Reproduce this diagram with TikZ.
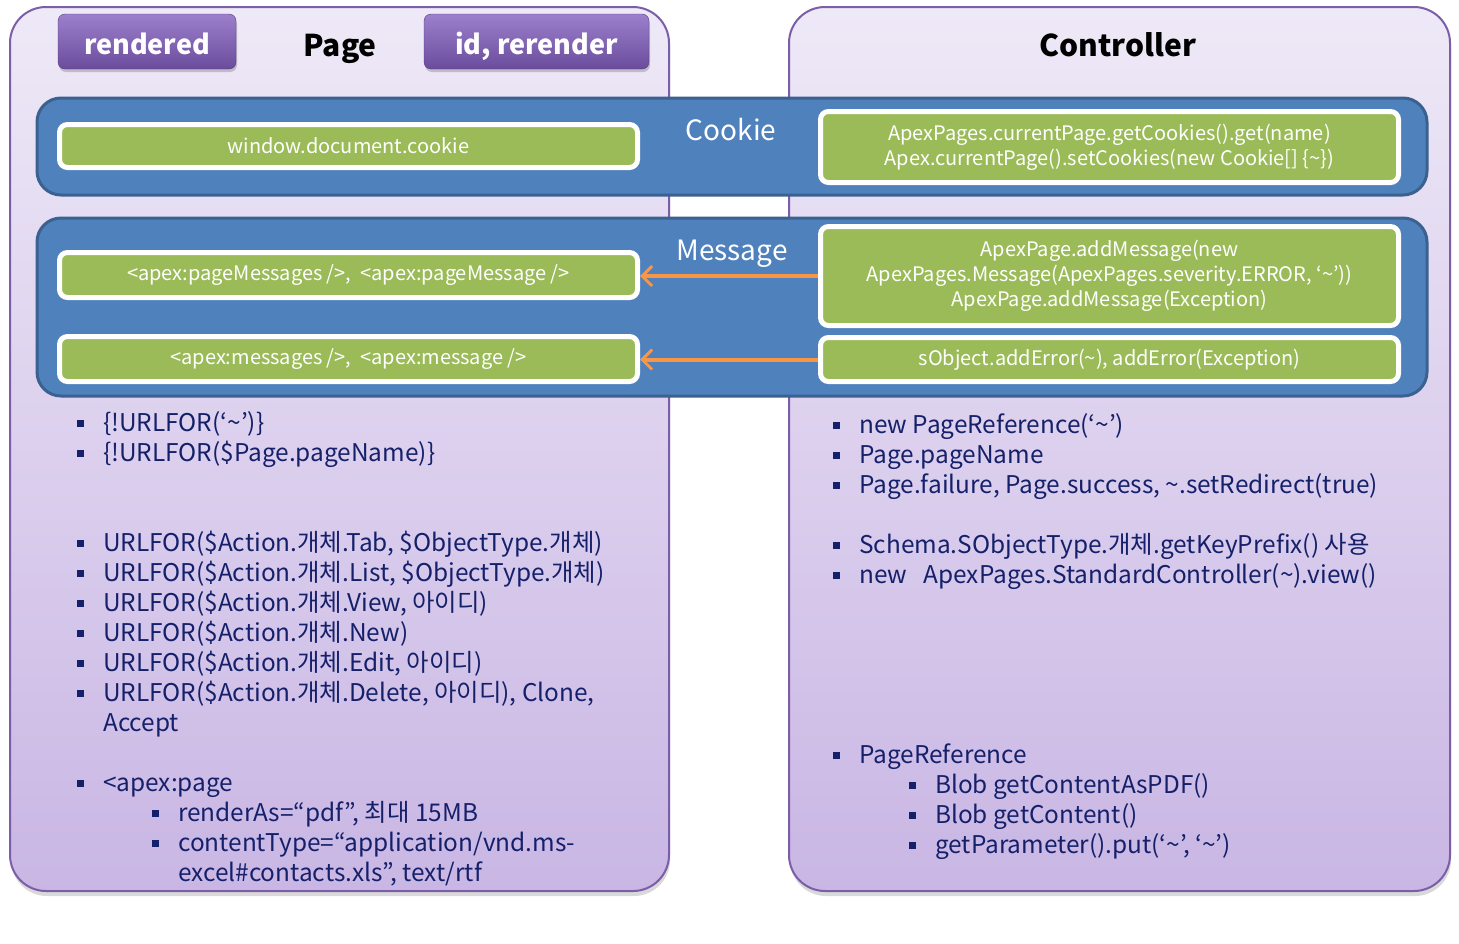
\documentclass[tikz,border=0pt]{standalone}
\usepackage{fontspec}
\setmainfont{Noto Sans CJK KR}
\usetikzlibrary{positioning, shadows, arrows.meta}
\definecolor{paneltop}{HTML}{EEE9F7}
\definecolor{panelbot}{HTML}{C9B6E4}
\definecolor{panelline}{HTML}{7B5EA7}
\definecolor{btntop}{HTML}{9C80CC}
\definecolor{btnbot}{HTML}{6A4C9C}
\definecolor{bandblue}{HTML}{4F81BD}
\definecolor{bandline}{HTML}{3A6190}
\definecolor{boxgreen}{HTML}{9BBB59}
\definecolor{arroworange}{HTML}{F79646}
\definecolor{navy}{HTML}{15206A}
\newcommand\sqb{\makebox[26pt][l]{\rule[4pt]{7pt}{7pt}}}

\begin{document}
\begin{tikzpicture}[x=1pt,y=-1pt,
   panel/.style={draw=panelline, line width=2pt, rounded corners=36pt,
      top color=paneltop, bottom color=panelbot,
      drop shadow={shadow xshift=1pt, shadow yshift=-5pt, opacity=.3}},
   button/.style={draw=btnbot!80!black, rounded corners=7pt, top color=btntop, bottom color=btnbot,
      text=white, font=\fontsize{27}{30}\selectfont\bfseries, text height=25pt, text depth=0pt,
      drop shadow={shadow xshift=1pt, shadow yshift=-3pt, opacity=.4}},
   title/.style={anchor=base, font=\fontsize{30}{34}\selectfont\bfseries},
   band/.style={draw=bandline, line width=3pt, fill=bandblue, rounded corners=24pt},
   bandlabel/.style={text=white, font=\fontsize{28}{32}\selectfont},
   greenbox/.style={draw=white, line width=5pt, fill=boxgreen, rounded corners=8pt, text=white,
      align=center, inner sep=0pt, font=\fontsize{20}{25}\selectfont,
      drop shadow={shadow xshift=1pt, shadow yshift=-2pt, opacity=.3}},
   item/.style={anchor=base west, text=navy, inner sep=0pt, font=\fontsize{24.4}{30}\selectfont},
   msgarrow/.style={draw=arroworange, line width=4pt, -{Straight Barb[length=10pt, width=20pt, line width=3pt]}}]
\useasboundingbox (0,0) rectangle (1459,943);

\draw[panel] (10,7) rectangle (669,891);
\draw[panel] (789,7) rectangle (1450,891);

\node[button, minimum width=178pt, minimum height=55pt] (rendered) at (147,41.5) {rendered};
\node[button, minimum width=225pt, minimum height=55pt] (rerender) at (536.5,41.5) {id, rerender};
\node[title] (page) at (340,56) {Page};
\node[title] (ctrl) at (1118,56) {Controller};

\draw[band] (37,98) rectangle (1427,195);
\draw[band] (37,218) rectangle (1427,396);
\node[bandlabel] (cookie) at (731,130) {Cookie};
\node[bandlabel] (message) at (732,254) {Message};

\node[greenbox, minimum width=578pt, minimum height=43pt] (wdc) at (348.5,146) {window.document.cookie};
\node[greenbox, minimum width=578pt, minimum height=71pt] (getck) at (1109.5,147)
   {ApexPages.currentPage.getCookies().get(name)\\Apex.currentPage().setCookies(new Cookie[] \{\textasciitilde\})};
\node[greenbox, minimum width=578pt, minimum height=45pt] (pgmsg) at (348.5,275)
   {<apex:pageMessages />, \ <apex:pageMessage />};
\node[greenbox, minimum width=578pt, minimum height=45pt] (msgs) at (348.5,359)
   {<apex:messages />, \ <apex:message />};
\node[greenbox, minimum width=578pt, minimum height=99pt] (addmsg) at (1109.5,276)
   {ApexPage.addMessage(new\\ApexPages.Message(ApexPages.severity.ERROR, ‘\textasciitilde’))\\ApexPage.addMessage(Exception)};
\node[greenbox, minimum width=578pt, minimum height=44pt] (adderr) at (1109.5,359.5)
   {sObject.addError(\textasciitilde), addError(Exception)};

\draw[msgarrow] (addmsg.west) -- (addmsg.west -| pgmsg.east);
\draw[msgarrow] (adderr.west) -- (adderr.west -| msgs.east);

\foreach \x/\y/\t in {77/431/{\{!URLFOR(‘\textasciitilde’)\}},
      77/461/{\{!URLFOR(\$Page.pageName)\}},
      77/551/{URLFOR(\$Action.개체.Tab, \$ObjectType.개체)},
      77/581/{URLFOR(\$Action.개체.List, \$ObjectType.개체)},
      77/611/{URLFOR(\$Action.개체.View, 아이디)},
      77/641/{URLFOR(\$Action.개체.New)},
      77/671/{URLFOR(\$Action.개체.Edit, 아이디)},
      77/701/{URLFOR(\$Action.개체.Delete, 아이디), Clone,},
      77/791/{<apex:page},
      152/821/{renderAs=“pdf”, 최대 15MB},
      152/851/{contentType=“application/vnd.ms-},
      833/433/{new PageReference(‘\textasciitilde’)},
      833/463/{Page.pageName},
      833/493/{Page.failure, Page.success, \textasciitilde.setRedirect(true)},
      833/553/{Schema.SObjectType.개체.getKeyPrefix() 사용},
      833/583/{new \ \ ApexPages.StandardController(\textasciitilde).view()},
      833/763/{PageReference},
      909/793/{Blob getContentAsPDF()},
      909/823/{Blob getContent()},
      909/853/{getParameter().put(‘\textasciitilde’, ‘\textasciitilde’)}}
   \node[item] (i\x-\y) at (\x,\y) {\sqb\t};
\node[item] (accept) at (103,731) {Accept};
\node[item] (excel) at (178,881) {excel\#contacts.xls”, text/rtf};

\end{tikzpicture}
\end{document}
